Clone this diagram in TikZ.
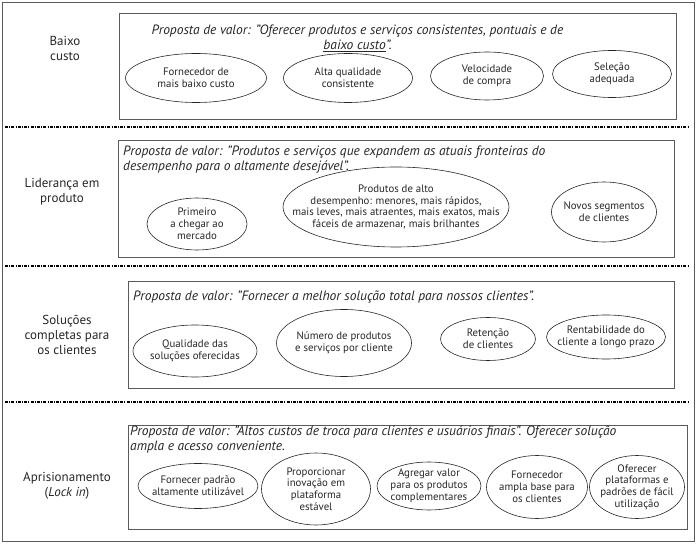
\documentclass[tikz,border=0pt]{standalone}
\usepackage{fontspec}
\setmainfont{PT Sans}
\usetikzlibrary{shapes.geometric}
\definecolor{boxgray}{HTML}{5A5A5A}
\definecolor{inkgray}{HTML}{262626}
\tikzset{
  oval/.style={ellipse, draw=inkgray, line width=.6pt, inner sep=0pt},
  ovaltext/.style={font=\fontsize{10.8}{11.8}\selectfont, align=center, inner sep=0pt, text=inkgray},
  valuebox/.style={draw=boxgray, line width=.9pt},
  proposal/.style={font=\fontsize{13.5}{15}\selectfont\itshape, inner sep=0pt, text=inkgray},
  strategy/.style={font=\fontsize{13}{15}\selectfont, align=center, inner sep=0pt, text=inkgray},
  divider/.style={line width=1.1pt, dash pattern=on 3pt off 1.2pt on 1pt off 1.2pt},
}
\begin{document}
\begin{tikzpicture}[x=1pt,y=-1pt]
\useasboundingbox (0,0) rectangle (699,545);
\draw[boxgray, line width=1pt] (2,3) rectangle (694,541);

\begin{scope}[local bounding box=bc]
  \node[strategy] (BC) at (65,48) {Baixo\\custo};
  \draw[valuebox] (119,13) rectangle (676,119);
  \node[proposal, align=center] (PV1) at (357.5,38)
    {Proposta de valor: "Oferecer produtos e serviços consistentes, pontuais e de\\\underline{baixo custo}".};
  \node[oval, minimum width=141, minimum height=49] (FMC) at (196,78) {};
  \node[ovaltext] (FMCt) at (FMC) {Fornecedor de\\mais baixo custo};
  \node[oval, minimum width=129, minimum height=49] (AQC) at (348,78) {};
  \node[ovaltext] (AQCt) at (AQC) {Alta qualidade\\consistente};
  \node[oval, minimum width=113, minimum height=48] (VC) at (487,76) {};
  \node[ovaltext] (VCt) at (VC) {Velocidade\\de compra};
  \node[oval, minimum width=119, minimum height=47] (SA) at (612,74) {};
  \node[ovaltext] (SAt) at (SA) {Seleção\\adequada};
\end{scope}

\coordinate (D1a) at (5,127);
\coordinate (D1b) at (688,127);
\draw[divider] (D1a) -- (D1b);

\begin{scope}[local bounding box=lp]
  \node[strategy] (LP) at (62,192) {Liderança em\\produto};
  \draw[valuebox] (118,140) rectangle (674,257);
  \node[proposal, align=left, anchor=north west] (PV2) at (123,146)
    {Proposta de valor: "Produtos e serviços que expandem as atuais fronteiras do\\desempenho para o altamente desejável".};
  \node[oval, minimum width=100, minimum height=52] (PCM) at (197,224) {};
  \node[ovaltext] (PCMt) at (PCM) {Primeiro\\a chegar ao\\mercado};
  \node[oval, minimum width=226, minimum height=80] (PAD) at (396,207) {};
  \node[ovaltext] (PADt) at (PAD) {Produtos de alto\\desempenho: menores, mais rápidos,\\mais leves, mais atraentes, mais exatos, mais\\fáceis de armazenar, mais brilhantes};
  \node[oval, minimum width=105, minimum height=60] (NSC) at (604,212) {};
  \node[ovaltext] (NSCt) at (NSC) {Novos segmentos\\de clientes};
\end{scope}

\coordinate (D2a) at (5,266);
\coordinate (D2b) at (688,266);
\draw[divider] (D2a) -- (D2b);

\begin{scope}[local bounding box=sc]
  \node[strategy] (SC) at (67,335) {Soluções\\completas para\\os clientes};
  \draw[valuebox] (128,281) rectangle (674,388);
  \node[proposal, anchor=west] (PV3) at (133,297)
    {Proposta de valor: "Fornecer a melhor solução total para nossos clientes".};
  \node[oval, minimum width=124, minimum height=52] (QSO) at (195,351) {};
  \node[ovaltext] (QSOt) at (QSO) {Qualidade das\\soluções oferecidas};
  \node[oval, minimum width=135, minimum height=67] (NPS) at (344,343) {};
  \node[ovaltext] (NPSt) at (NPS) {Número de produtos\\e serviços por cliente};
  \node[oval, minimum width=95, minimum height=43] (RC) at (488,339) {};
  \node[ovaltext] (RCt) at (RC) {Retenção\\de clientes};
  \node[oval, minimum width=119, minimum height=44] (RLP) at (606,337) {};
  \node[ovaltext] (RLPt) at (RLP) {Rentabilidade do\\cliente a longo prazo};
\end{scope}

\coordinate (D3a) at (5,402);
\coordinate (D3b) at (688,402);
\draw[divider] (D3a) -- (D3b);

\begin{scope}[local bounding box=ap]
  \node[strategy] (AP) at (67,486) {Aprisionamento\\(\textit{Lock in})};
  \draw[valuebox] (128,425) rectangle (687,529);
  \node[proposal, align=left, anchor=north west] (PV4) at (130,426)
    {Proposta de valor: "Altos custos de troca para clientes e usuários finais". Oferecer solução\\ampla e acesso conveniente.};
  \node[oval, minimum width=120, minimum height=45] (FPU) at (198,486) {};
  \node[ovaltext] (FPUt) at (FPU) {Fornecer padrão\\altamente utilizável};
  \node[oval, minimum width=109, minimum height=72] (PIP) at (316,489) {};
  \node[ovaltext] (PIPt) at (PIP) {Proporcionar\\inovação em\\plataforma\\estável};
  \node[oval, minimum width=104, minimum height=48] (AVP) at (429,486) {};
  \node[ovaltext] (AVPt) at (AVP) {Agregar valor\\para os produtos\\complementares};
  \node[oval, minimum width=101, minimum height=63] (FAB) at (537,487) {};
  \node[ovaltext] (FABt) at (FAB) {Fornecedor\\ampla base para\\os clientes};
  \node[oval, minimum width=95, minimum height=63] (OPF) at (637,487) {};
  \node[ovaltext] (OPFt) at (OPF) {Oferecer\\plataformas e\\padrões de fácil\\utilização};
\end{scope}
\end{tikzpicture}
\end{document}
